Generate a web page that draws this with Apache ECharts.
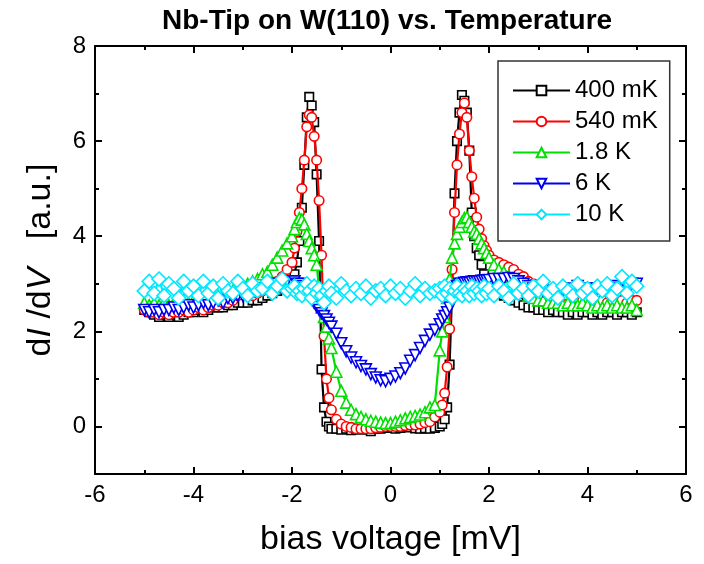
<!DOCTYPE html>
<html><head><meta charset="utf-8">
<script src="https://cdn.jsdelivr.net/npm/echarts@6/dist/echarts.min.js"></script>
<style>html,body{margin:0;padding:0;background:#fff}#c{width:704px;height:564px}</style>
</head><body><div id="c"></div><script>
// bias voltage [mV]
const voltage = [-5.0,-4.9,-4.8,-4.7,-4.6,-4.5,-4.4,-4.3,-4.2,-4.1,-4.0,-3.9,-3.8,-3.7,-3.6,-3.5,-3.4,-3.3,-3.2,-3.1,-3.0,-2.9,-2.8,-2.7,-2.6,-2.5,-2.4,-2.3,-2.2,-2.1,
 -2.0,-1.95,-1.9,-1.85,-1.8,-1.75,-1.7,-1.65,-1.6,-1.55,-1.5,-1.45,-1.4,-1.35,-1.3,-1.25,-1.2,
 -1.1,-1.0,-0.9,-0.8,-0.7,-0.6,-0.5,-0.4,-0.3,-0.2,-0.1,0,0.1,0.2,0.3,0.4,0.5,0.6,0.7,0.8,0.9,1.0,
 1.05,1.1,1.15,1.2,1.25,1.3,1.35,1.4,1.45,1.5,1.55,1.6,1.65,1.7,1.75,1.8,1.85,1.9,1.95,
 2.0,2.1,2.2,2.3,2.4,2.5,2.6,2.7,2.8,2.9,3.0,3.1,3.2,3.3,3.4,3.5,3.6,3.7,3.8,3.9,4.0,4.1,4.2,4.3,4.4,4.5,4.6,4.7,4.8,4.9,5.0];

const dIdV_400mK = [2.45,2.4,2.35,2.3,2.35,2.3,2.35,2.3,2.35,2.4,2.4,2.45,2.4,2.45,2.5,2.5,2.5,2.55,2.55,2.6,2.6,2.6,2.65,2.65,2.7,2.75,2.8,2.85,2.9,2.95,
 3.05,3.2,3.45,3.9,4.6,5.5,6.5,6.93,6.75,6.4,5.3,3.9,1.2,0.4,0.1,0.0,-0.05,
 -0.05,-0.07,-0.05,-0.08,-0.05,-0.07,-0.05,-0.1,-0.05,-0.05,-0.03,-0.02,-0.05,-0.03,0.0,-0.02,-0.04,-0.05,-0.04,-0.05,-0.03,0.0,
 0.05,0.15,0.4,1.3,2.8,4.9,6.0,6.6,6.97,6.85,6.6,5.8,4.5,4.0,3.75,3.6,3.4,3.2,3.1,
 3.0,2.9,2.85,2.75,2.7,2.65,2.6,2.55,2.5,2.5,2.45,2.45,2.4,2.45,2.4,2.4,2.35,2.4,2.35,2.4,2.4,2.35,2.4,2.35,2.4,2.4,2.35,2.4,2.4,2.35,2.4];

const dIdV_540mK = [2.45,2.4,2.4,2.35,2.4,2.35,2.4,2.4,2.45,2.4,2.45,2.5,2.45,2.5,2.55,2.55,2.6,2.6,2.65,2.75,2.9,2.75,2.75,2.8,2.85,2.9,2.95,3.05,3.15,3.3,
 3.45,3.75,4.1,4.5,5.0,5.6,6.3,6.55,6.5,6.1,5.6,4.75,3.6,1.9,1.0,0.6,0.35,
 0.15,0.05,0.0,-0.02,-0.05,-0.05,-0.05,-0.05,-0.03,-0.02,0.0,0.0,0.0,0.0,0.02,0.03,0.03,0.05,0.08,0.1,0.2,0.3,
 0.45,0.7,1.25,2.05,3.3,4.5,5.5,6.15,6.6,6.8,6.5,5.8,5.25,4.8,4.4,4.15,3.95,3.8,3.7,
 3.6,3.5,3.45,3.4,3.35,3.3,3.2,3.15,3.05,3.0,2.95,2.9,2.85,2.85,2.8,2.75,2.75,2.7,2.7,2.65,2.65,2.65,2.6,2.65,2.6,2.6,2.6,2.65,2.6,2.65,2.65];

const dIdV_1_8K = [2.6,2.55,2.6,2.55,2.6,2.55,2.6,2.6,2.65,2.6,2.65,2.65,2.7,2.7,2.75,2.75,2.8,2.8,2.85,2.9,2.95,3.0,3.05,3.1,3.2,3.25,3.4,3.55,3.7,3.85,
 4.0,4.15,4.3,4.38,4.35,4.25,4.05,3.9,3.75,3.6,3.4,2.9,2.5,2.3,2.1,1.85,1.65,
 1.15,0.75,0.5,0.35,0.26,0.2,0.15,0.12,0.1,0.08,0.07,0.07,0.1,0.13,0.17,0.2,0.22,0.25,0.3,0.4,0.45,1.6,
 2.0,2.3,2.7,3.1,3.55,3.85,4.05,4.2,4.3,4.38,4.4,4.3,4.2,4.1,4.05,3.95,3.85,3.75,3.65,
 3.55,3.4,3.3,3.25,3.15,3.05,2.95,2.85,2.75,2.7,2.65,2.65,2.6,2.6,2.6,2.55,2.6,2.55,2.55,2.6,2.55,2.5,2.55,2.5,2.55,2.5,2.55,2.5,2.5,2.55,2.45];

const dIdV_6K = [2.45,2.4,2.45,2.4,2.45,2.45,2.5,2.45,2.5,2.55,2.5,2.55,2.6,2.55,2.6,2.65,2.6,2.7,2.7,2.75,2.75,2.8,2.85,2.85,2.9,2.9,2.95,3.0,3.0,3.05,
 3.05,3.05,3.0,3.0,2.95,2.9,2.85,2.75,2.67,2.6,2.52,2.45,2.38,2.32,2.25,2.18,2.1,
 1.95,1.75,1.58,1.45,1.35,1.27,1.2,1.1,1.03,0.97,0.95,1.0,1.05,1.12,1.22,1.38,1.5,1.65,1.8,1.93,2.03,2.15,
 2.25,2.32,2.4,2.5,2.65,2.85,2.95,3.0,3.0,3.02,3.03,3.02,3.04,3.05,3.05,3.05,3.06,3.07,3.07,
 3.08,3.1,3.1,3.1,3.12,3.1,3.05,3.0,2.95,2.9,2.85,2.85,2.8,2.85,2.8,2.85,2.85,2.9,2.95,2.85,2.9,2.85,2.9,2.85,2.9,2.95,2.9,3.05,2.95,3.0,3.0];

const dIdV_10K = [2.85,3.05,2.8,3.1,2.75,3.0,2.9,2.7,3.05,2.85,2.95,2.75,3.05,2.8,2.95,2.7,3.0,2.85,2.8,3.05,2.9,2.75,3.0,2.85,2.9,3.05,2.8,2.95,3.1,2.85,
 2.9,2.95,2.8,2.85,2.75,2.9,3.0,2.85,2.7,2.95,2.8,2.9,2.75,2.6,2.85,2.95,2.8,
 2.7,3.0,2.85,2.75,2.9,2.8,2.95,2.7,2.85,2.9,2.75,2.95,2.8,2.9,2.7,2.85,3.0,2.75,2.9,2.8,2.85,2.9,
 2.75,2.95,2.8,2.9,2.7,2.85,2.95,2.8,2.75,2.9,2.85,2.75,2.95,2.8,2.9,2.85,2.75,2.95,2.8,
 2.9,2.75,2.95,2.85,2.7,3.0,2.8,2.9,2.75,2.95,2.85,3.05,2.8,2.9,2.7,2.95,2.85,2.75,3.0,2.8,2.9,2.7,2.95,2.85,3.0,2.75,2.9,3.15,2.8,3.05,2.95];

const seriesNames = ['400 mK','540 mK','1.8 K','6 K','10 K'];
const xTicks = [-6,-4,-2,0,2,4,6];
const yTicks = [0,2,4,6,8];
const yMinorTicks = [1,3,5,7];

const SANS = '"Liberation Sans",Arial,sans-serif';

function pairs(vals){ return voltage.map((v,i)=>[v, vals[i]]); }

const styles = [
  {data: dIdV_400mK, color:'#000000', symbol:'rect', size:8.5, rot:0},
  {data: dIdV_540mK, color:'#ff0000', symbol:'circle', size:9.5, rot:0},
  {data: dIdV_1_8K, color:'#00e000', symbol:'triangle', size:11, rot:0},
  {data: dIdV_6K, color:'#0000ee', symbol:'triangle', size:11, rot:180},
  {data: dIdV_10K, color:'#00e8ff', symbol:'diamond', size:14, rot:0}
];

const series = styles.map((s,k)=>({
  type:'line', name: seriesNames[k], data: pairs(s.data),
  symbol: s.symbol, symbolSize: s.size, symbolRotate: s.rot, showAllSymbol:true,
  lineStyle:{color:s.color, width:2.2},
  itemStyle:{color:'#fff', borderColor:s.color, borderWidth:1.6},
  z: 2+k, animation:false
}));

const axisLineStyle = {show:true, onZero:false, lineStyle:{color:'#000', width:2}};
const hiddenLine = {show:false, onZero:false};

const option = {
  backgroundColor:'#fff',
  animation:false,
  title:{text:'Nb-Tip on W(110) vs. Temperature', left:157, top:2,
    textStyle:{fontFamily:SANS, fontWeight:'bold', fontSize:28, color:'#000'}},
  grid:{left:95, right:18, top:46, bottom:90, containLabel:false},
  legend:{orient:'vertical', left:498, top:61, padding:[16,12,13,14], itemGap:4,
    itemWidth:57, itemHeight:12, borderColor:'#333', borderWidth:1.5,
    data: seriesNames,
    textStyle:{fontFamily:SANS, fontSize:24, color:'#000', lineHeight:27}},
  xAxis:[
    {type:'value', min:-6, max:6, interval:2, position:'bottom',
     axisLine:axisLineStyle,
     axisTick:{inside:true, length:7, lineStyle:{color:'#000', width:2}},
     minorTick:{show:true, splitNumber:2, length:4, lineStyle:{color:'#000', width:2}},
     splitLine:{show:false},
     axisLabel:{color:'#000', fontSize:24, fontFamily:SANS, margin:9, customValues:xTicks},
     name:'bias voltage [mV]', nameLocation:'middle', nameGap:49,
     nameTextStyle:{fontFamily:SANS, fontSize:34, color:'#000'}},
    {type:'value', min:-6, max:6, interval:2, position:'top',
     axisLine:axisLineStyle,
     axisTick:{inside:true, length:7, lineStyle:{color:'#000', width:2}},
     minorTick:{show:true, splitNumber:2, length:4, lineStyle:{color:'#000', width:2}},
     splitLine:{show:false}, axisLabel:{show:false}}
  ],
  yAxis:[
    {type:'value', min:-1, max:8, position:'left',
     axisLine:axisLineStyle,
     axisTick:{inside:true, length:7, customValues:yTicks, lineStyle:{color:'#000', width:2}},
     splitLine:{show:false},
     axisLabel:{color:'#000', fontSize:24, fontFamily:SANS, margin:9, customValues:yTicks},
     name:'d{i|I} /d{i|V}   [a.u.]', nameLocation:'middle', nameGap:37, nameRotate:90,
     nameTextStyle:{fontFamily:SANS, fontSize:34, color:'#000',
       rich:{i:{fontFamily:SANS, fontSize:34, fontStyle:'italic', color:'#000'}}}},
    {type:'value', min:-1, max:8, position:'right',
     axisLine:axisLineStyle,
     axisTick:{inside:true, length:7, customValues:yTicks, lineStyle:{color:'#000', width:2}},
     splitLine:{show:false}, axisLabel:{show:false}},
    {type:'value', min:-1, max:8, position:'left',
     axisLine:hiddenLine,
     axisTick:{inside:true, length:4, customValues:yMinorTicks, lineStyle:{color:'#000', width:2}},
     splitLine:{show:false}, axisLabel:{show:false}},
    {type:'value', min:-1, max:8, position:'right',
     axisLine:hiddenLine,
     axisTick:{inside:true, length:4, customValues:yMinorTicks, lineStyle:{color:'#000', width:2}},
     splitLine:{show:false}, axisLabel:{show:false}}
  ],
  series: series
};

const chart = echarts.init(document.getElementById('c'), null, {renderer:'canvas'});
chart.setOption(option);
</script></body></html>
